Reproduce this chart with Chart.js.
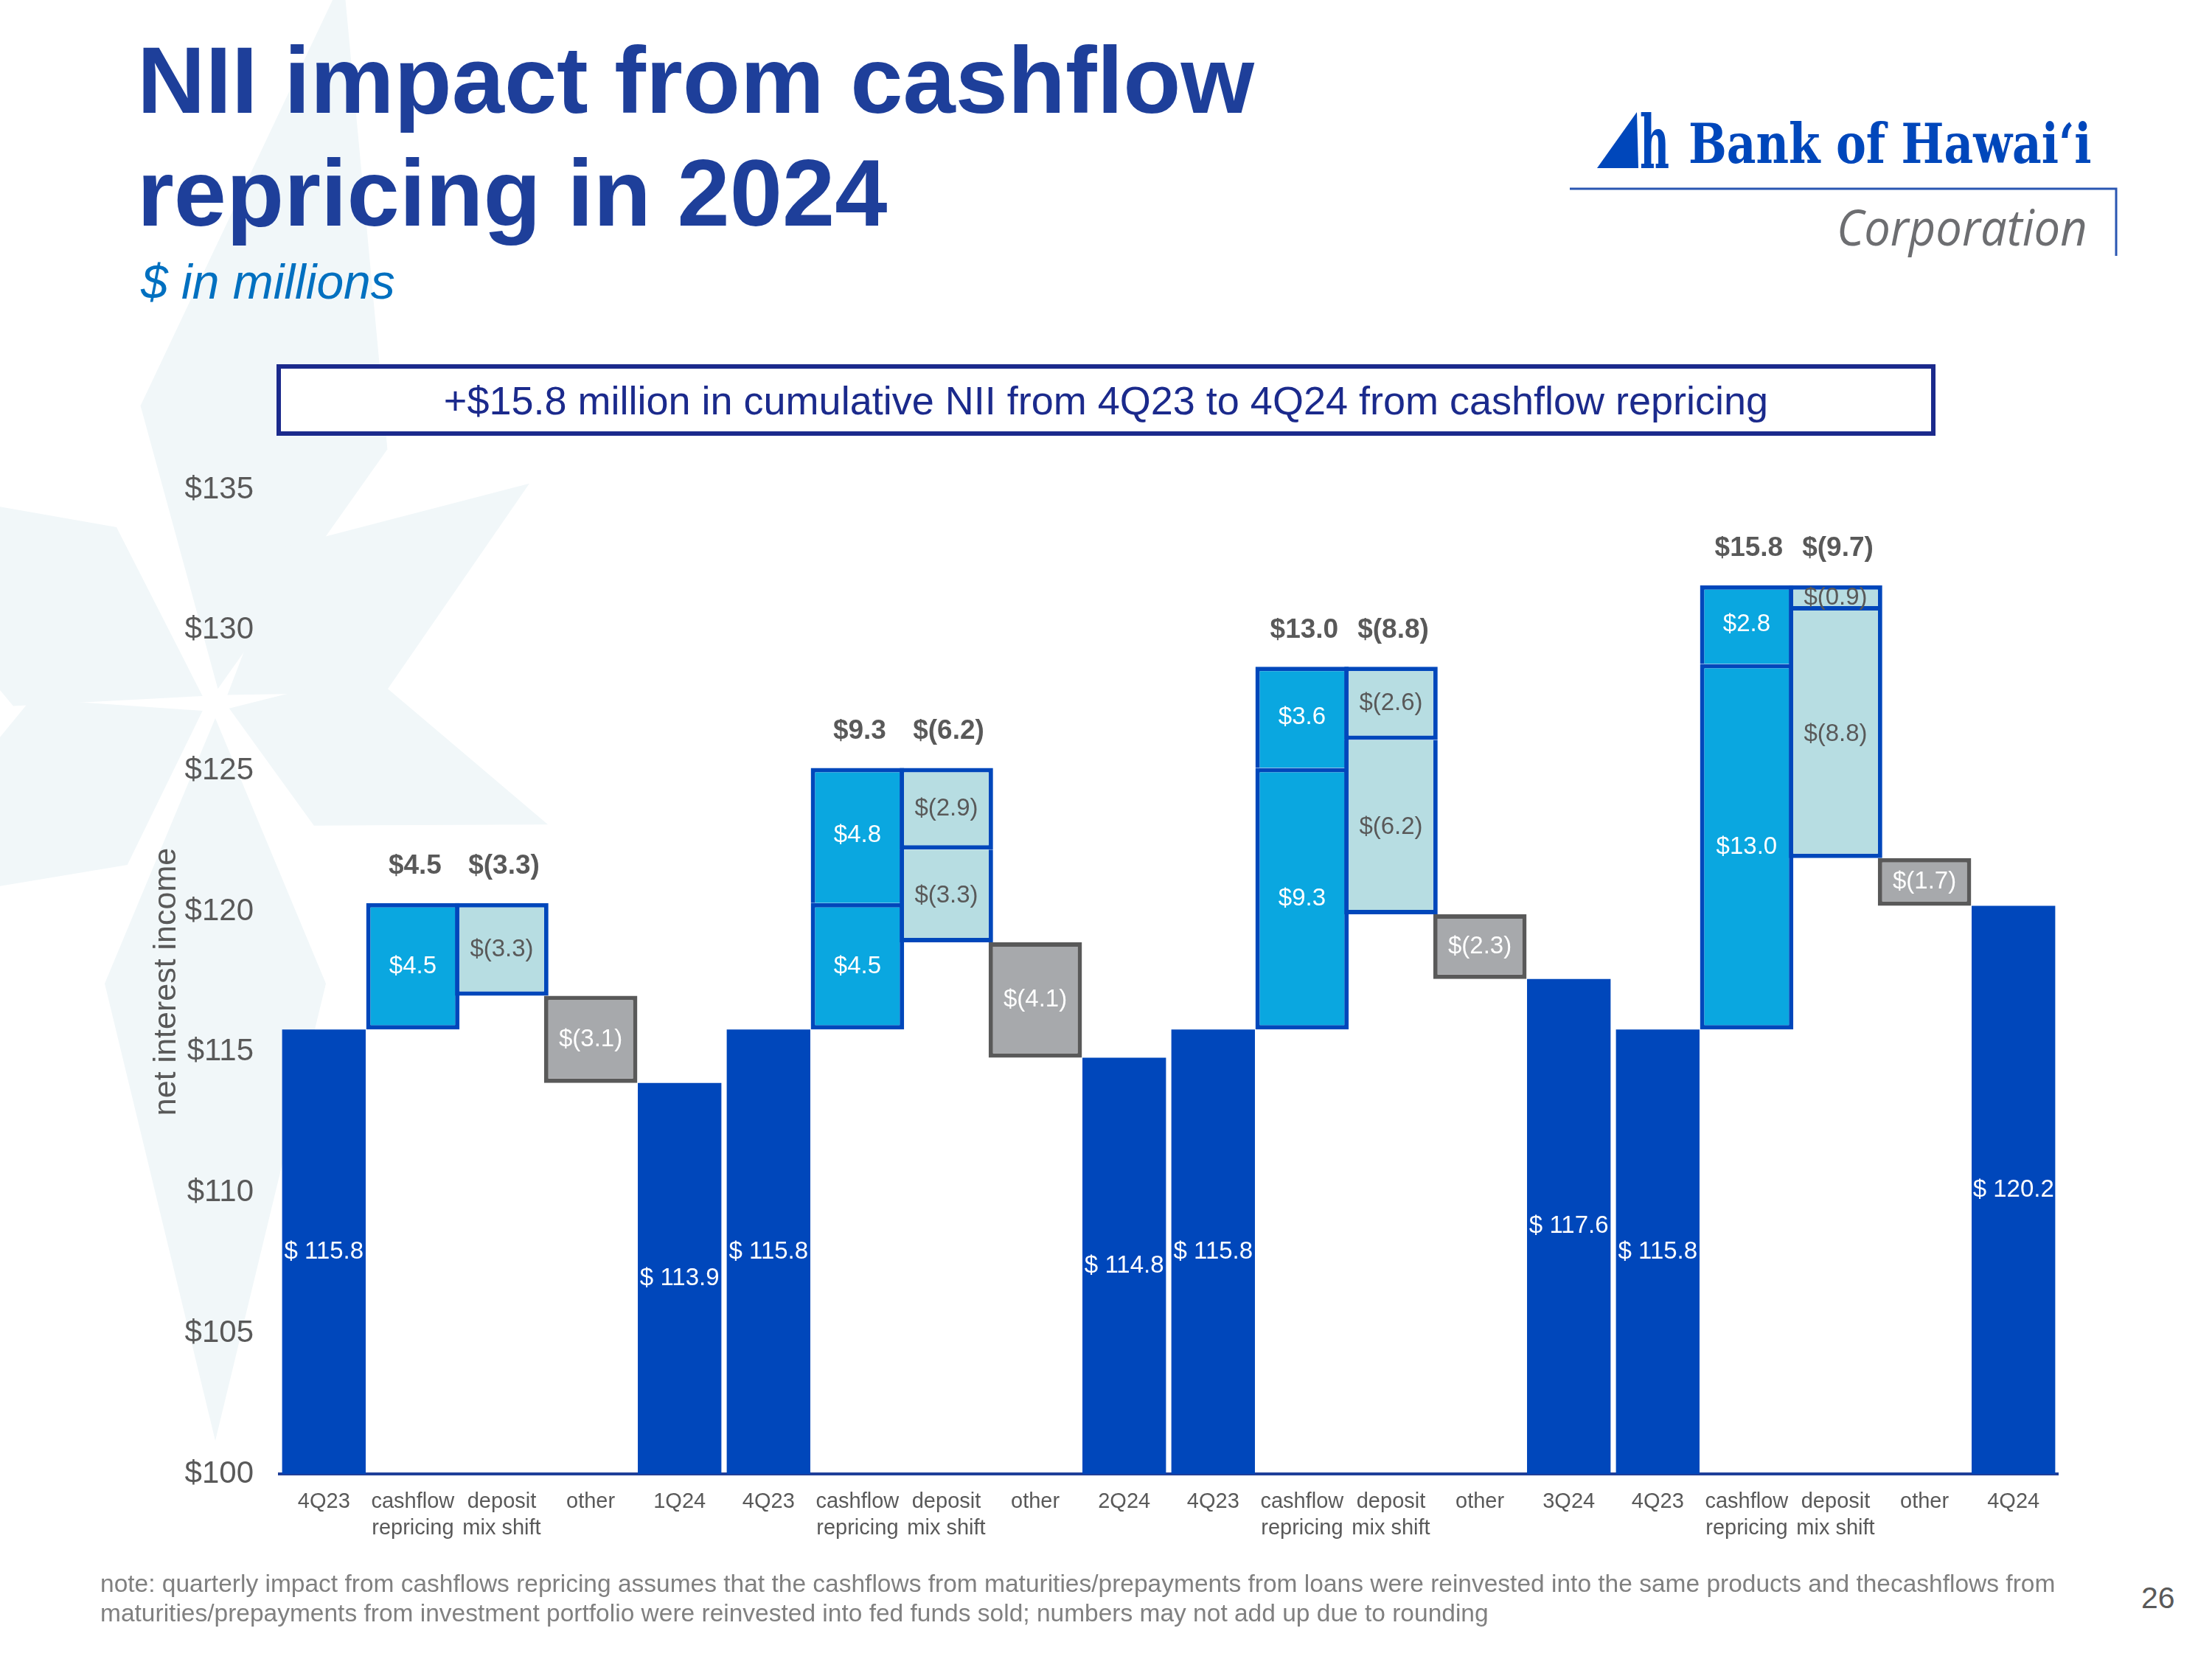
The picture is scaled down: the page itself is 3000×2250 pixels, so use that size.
<!DOCTYPE html>
<html>
<head>
<meta charset="utf-8">
<script src="https://cdn.jsdelivr.net/npm/chart.js@4.4.1/dist/chart.umd.min.js"></script>
<style>
  html, body { margin: 0; padding: 0; }
  body { width: 3000px; height: 2250px; position: relative; overflow: hidden; background: #fff;
         font-family: "Liberation Sans", Arial, sans-serif; }
  .abs { position: absolute; white-space: nowrap; }
  #title { left: 186px; top: 32px; font-size: 128px; line-height: 153px; font-weight: bold; color: #1E3F9A; }
  #subtitle { left: 191px; top: 349px; font-size: 66px; line-height: 66px; font-style: italic; color: #0070C0; }
  #banner { left: 375px; top: 494px; width: 2250px; height: 97px; box-sizing: border-box;
            border: 6px solid #1B2A8C; display: flex; align-items: center; justify-content: center;
            font-size: 54px; color: #1B2A8C; background: #fff; }
  #logoName { left: 2290px; top: 150px; font-family: "DejaVu Serif Condensed", "DejaVu Serif", serif;
              font-weight: bold; font-size: 74px; line-height: 90px; color: #0047BB; transform-origin: 0 0; }
  #logoCorp { left: 2491px; top: 262px; font-family: "Open Sans", sans-serif; font-style: italic;
              font-size: 67px; line-height: 90px; color: #6D6E71; transform-origin: 0 0; }
  #note { left: 136px; top: 2128px; font-size: 33.5px; line-height: 40px; color: #808080; }
  #page { left: 2904px; top: 2142px; font-size: 41px; line-height: 50px; color: #595959; }
  #chartBox { position: absolute; left: 0; top: 600px; }
</style>
</head>
<body>
<svg class="abs" style="left:0;top:0" width="3000" height="2250" id="decor"></svg>

<div id="title" class="abs">NII impact from cashflow<br>repricing in 2024</div>
<div id="subtitle" class="abs">$ in millions</div>
<div id="logoName" class="abs">Bank of Hawaiʻi</div>
<div id="logoCorp" class="abs">Corporation</div>
<div id="banner" class="abs">+$15.8 million in cumulative NII from 4Q23 to 4Q24 from cashflow repricing</div>

<div id="chartBox"><canvas id="nii" width="2900" height="1600"></canvas></div>

<div id="note" class="abs">note: quarterly impact from cashflows repricing assumes that the cashflows from maturities/prepayments from loans were reinvested into the same products and thecashflows from<br>maturities/prepayments from investment portfolio were reinvested into fed funds sold; numbers may not add up due to rounding</div>
<div id="page" class="abs">26</div>

<script>
// ---- data ($ millions) ----
const categories = [
    '4Q23', ['cashflow', 'repricing'], ['deposit', 'mix shift'], 'other', '1Q24',
    '4Q23', ['cashflow', 'repricing'], ['deposit', 'mix shift'], 'other', '2Q24',
    '4Q23', ['cashflow', 'repricing'], ['deposit', 'mix shift'], 'other', '3Q24',
    '4Q23', ['cashflow', 'repricing'], ['deposit', 'mix shift'], 'other', '4Q24'
];
const startTotals = [115.8, 115.8, 115.8, 115.8];
const endTotals = [113.9, 114.8, 117.6, 120.2];
const cashflowSteps = [[4.5], [4.5, 4.8], [9.3, 3.6], [13.0, 2.8]];
const cashflowTotals = [4.5, 9.3, 13.0, 15.8];
const depositSteps = [[-3.3], [-2.9, -3.3], [-2.6, -6.2], [-0.9, -8.8]];
const depositTotals = [-3.3, -6.2, -8.8, -9.7];
const otherSteps = [-3.1, -4.1, -2.3, -1.7];
const yTicks = [100, 105, 110, 115, 120, 125, 130, 135];

// ---- colours ----
const navy = '#0047BB';
const cyan = '#0AA7E0';
const pale = '#B7DDE2';
const grey = '#A7A9AC';
const darkGrey = '#595959';

// faint star in the background, logo mark and rule
(function () {
    const ns = 'http://www.w3.org/2000/svg';
    const svg = document.getElementById('decor');
    const cx = 292, cy = 954;
    // [angle, length, half width]
    const rays = [[-80, 1000, 170], [-35, 520, 120], [20, 480, 110], [90, 1000, 150], [150, 560, 130], [-150, 620, 140]];
    rays.forEach(([a, len, hw]) => {
        const r = a * Math.PI / 180;
        const ux = Math.cos(r), uy = Math.sin(r), px = -uy, py = ux;
        const mid = len * 0.38;
        const pts = [
            [cx + ux * 20, cy + uy * 20],
            [cx + ux * mid + px * hw, cy + uy * mid + py * hw],
            [cx + ux * len, cy + uy * len],
            [cx + ux * mid - px * hw, cy + uy * mid - py * hw]
        ];
        const poly = document.createElementNS(ns, 'polygon');
        poly.setAttribute('points', pts.map(p => p.join(',')).join(' '));
        poly.setAttribute('fill', '#F1F7F9');
        svg.appendChild(poly);
    });
    const tri = document.createElementNS(ns, 'polygon');
    tri.setAttribute('points', '2166,228 2220,152 2222,228');
    tri.setAttribute('fill', navy);
    svg.appendChild(tri);
    const h = document.createElementNS(ns, 'text');
    h.setAttribute('x', 2224); h.setAttribute('y', 228);
    h.setAttribute('font-family', 'DejaVu Serif');
    h.setAttribute('font-weight', 'bold');
    h.setAttribute('font-size', 100);
    h.setAttribute('textLength', 40);
    h.setAttribute('lengthAdjust', 'spacingAndGlyphs');
    h.setAttribute('fill', navy);
    h.textContent = 'h';
    svg.appendChild(h);
    const rule = document.createElementNS(ns, 'path');
    rule.setAttribute('d', 'M2129,256 L2870,256 L2870,347');
    rule.setAttribute('stroke', '#2A56B2');
    rule.setAttribute('stroke-width', 3);
    rule.setAttribute('fill', 'none');
    svg.appendChild(rule);
})();

// squeeze logo texts to their widths
function fitWidth(id, w) {
    const el = document.getElementById(id);
    el.style.transform = 'scaleX(' + (w / el.offsetWidth) + ')';
}
fitWidth('logoName', 547);
fitWidth('logoCorp', 340);

function money(v) {
    return v < 0 ? '$(' + (-v).toFixed(1) + ')' : '$' + v.toFixed(1);
}

// build floating bar arrays from the steps
const n = categories.length;
const blank = () => new Array(n).fill(null);
const totalBars = blank(), totalText = blank();
const cfLow = blank(), cfLowText = blank(), cfHigh = blank(), cfHighText = blank();
const depHigh = blank(), depHighText = blank(), depLow = blank(), depLowText = blank();
const otherBars = blank(), otherText = blank();
const topLevels = [];

startTotals.forEach((start, g) => {
    const i = g * 5;
    totalBars[i] = [100, start];
    totalText[i] = '$ ' + start.toFixed(1);
    let level = start;
    cashflowSteps[g].forEach((s, k) => {
        const bars = k === 0 ? cfLow : cfHigh, txt = k === 0 ? cfLowText : cfHighText;
        bars[i + 1] = [level, level + s];
        txt[i + 1] = money(s);
        level += s;
    });
    topLevels.push(level);
    depositSteps[g].forEach((s, k) => {
        const bars = k === 0 ? depHigh : depLow, txt = k === 0 ? depHighText : depLowText;
        bars[i + 2] = [level + s, level];
        txt[i + 2] = money(s);
        level += s;
    });
    otherBars[i + 3] = [level + otherSteps[g], level];
    otherText[i + 3] = money(otherSteps[g]);
    totalBars[i + 4] = [100, endTotals[g]];
    totalText[i + 4] = '$ ' + endTotals[g].toFixed(1);
});

function stepSet(data, text, fill, border, skipped, textColor) {
    return {
        data: data, labelsText: text, labelColor: textColor,
        backgroundColor: fill, borderColor: border, borderWidth: 6,
        borderSkipped: skipped, grouped: false,
        barPercentage: 1.05, categoryPercentage: 1.0
    };
}

const valueLabels = {
    id: 'valueLabels',
    afterDatasetsDraw(chart) {
        const ctx = chart.ctx;
        ctx.save();
        ctx.textAlign = 'center';
        ctx.textBaseline = 'middle';
        ctx.font = '33px "Liberation Sans", Arial, sans-serif';
        chart.data.datasets.forEach((ds, d) => {
            const meta = chart.getDatasetMeta(d);
            meta.data.forEach((bar, j) => {
                const txt = ds.labelsText[j];
                if (!txt) return;
                ctx.fillStyle = ds.labelColor;
                ctx.fillText(txt, bar.x, (bar.y + bar.base) / 2);
            });
        });
        // column totals above the repricing / deposit columns
        ctx.font = 'bold 37px "Liberation Sans", Arial, sans-serif';
        ctx.fillStyle = darkGrey;
        const xs = chart.scales.x, ys = chart.scales.y;
        topLevels.forEach((top, g) => {
            const y = ys.getPixelForValue(top) - 50;
            ctx.fillText(money(cashflowTotals[g]), xs.getPixelForValue(g * 5 + 1) + 3, y);
            ctx.fillText(money(depositTotals[g]), xs.getPixelForValue(g * 5 + 2) + 3, y);
        });
        ctx.restore();
    }
};

Chart.defaults.font.family = '"Liberation Sans", Arial, sans-serif';
Chart.defaults.color = darkGrey;

new Chart(document.getElementById('nii').getContext('2d'), {
    type: 'bar',
    data: {
        labels: categories,
        datasets: [
            stepSet(otherBars, otherText, grey, darkGrey, false, '#FFFFFF'),
            stepSet(depHigh, depHighText, pale, navy, false, darkGrey),
            stepSet(depLow, depLowText, pale, navy, 'top', darkGrey),
            stepSet(cfLow, cfLowText, cyan, navy, false, '#FFFFFF'),
            stepSet(cfHigh, cfHighText, cyan, navy, 'bottom', '#FFFFFF'),
            {
                data: totalBars, labelsText: totalText, labelColor: '#FFFFFF',
                backgroundColor: navy, borderWidth: 0, grouped: false,
                barPercentage: 0.94, categoryPercentage: 1.0
            }
        ]
    },
    options: {
        responsive: false,
        devicePixelRatio: 1,
        animation: false,
        layout: { padding: { top: 64, left: 200, right: 109, bottom: 51 } },
        plugins: { legend: { display: false }, tooltip: { enabled: false } },
        scales: {
            x: {
                grid: { display: false, drawTicks: false },
                border: { display: true, color: '#1F3F99', width: 4 },
                ticks: { color: darkGrey, font: { size: 29, lineHeight: 1.25 }, padding: 20, maxRotation: 0, autoSkip: false },
                afterFit(scale) { scale.height = 150; }
            },
            y: {
                min: 100, max: 135,
                grid: { display: false, drawTicks: false },
                border: { display: false },
                afterBuildTicks(scale) { scale.ticks = yTicks.map(v => ({ value: v })); },
                ticks: { color: darkGrey, font: { size: 42 }, padding: 35, callback: v => '$' + v },
                title: { display: true, text: 'net interest income', color: darkGrey, font: { size: 43 }, padding: 0 },
                afterFit(scale) { scale.width = 179; }
            }
        }
    },
    plugins: [valueLabels]
});
</script>
</body>
</html>
